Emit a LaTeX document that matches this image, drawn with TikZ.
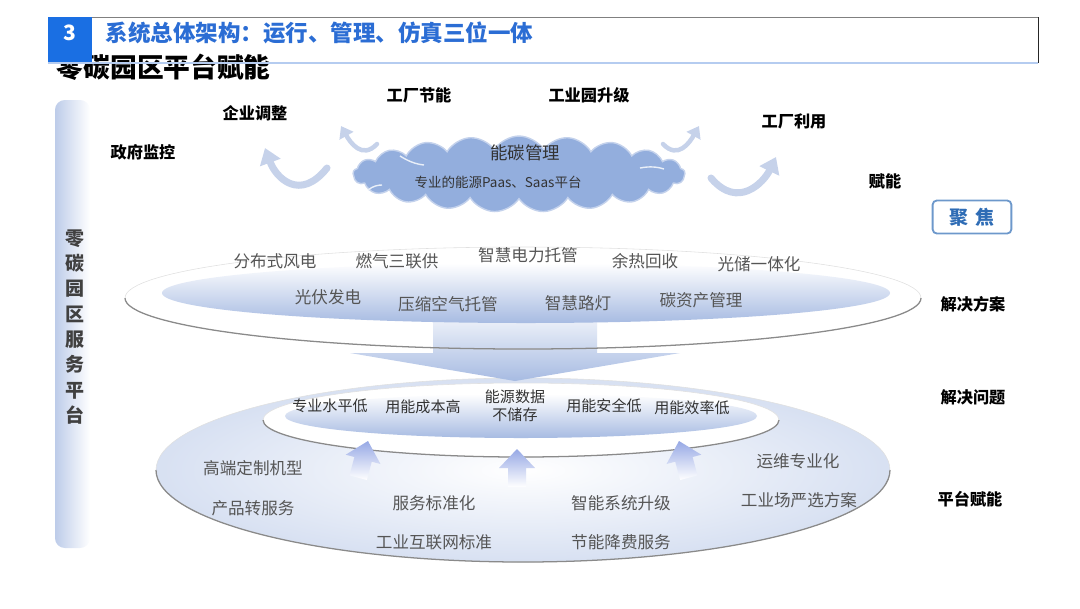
\documentclass[tikz,border=0pt]{standalone}
\usepackage{fontspec}
\setmainfont{Noto Sans CJK SC}
\usetikzlibrary{shapes.symbols,arrows.meta}

\definecolor{hdblue}{HTML}{1A6FE3}
\definecolor{ttlblue}{HTML}{2B6DD4}
\definecolor{cloudblue}{HTML}{93AEDD}
\definecolor{diskblue}{HTML}{A7BBE2}
\definecolor{swish}{HTML}{C6D2EA}
\definecolor{rimgray}{HTML}{8A8A8A}
\definecolor{itemgray}{HTML}{555555}
\definecolor{focusblue}{HTML}{2E6CB5}

\begin{document}
\begin{tikzpicture}[x=0.025cm,y=-0.025cm,
  lbl/.style={font=\fontsize{11.5}{13}\selectfont\bfseries},
  itm/.style={text=itemgray,font=\fontsize{11.8}{14}\selectfont},
  prb/.style={text=black!80,font=\fontsize{10.7}{12.5}\selectfont,align=center},
  upar/.style={top color=diskblue!90!blue,bottom color=white},
  swoosh/.style={draw=swish,line cap=round}]
  \useasboundingbox (0,0) rectangle (1080,608);

  % side bar
  \shade[left color=diskblue!75,right color=white,rounded corners=7pt] (55,100) rectangle (90,548);
  \node[font=\fontsize{13.5}{18}\selectfont\bfseries,text=black!75,align=center] (bar) at (75,327) {零\\碳\\园\\区\\服\\务\\平\\台};

  % header
  \node[anchor=west,font=\fontsize{19}{21}\selectfont\bfseries] (sub) at (52,67) {零碳园区平台赋能};
  \draw[black!50] (48,17) -- (1038,17);
  \draw[black!85] (1038,17) -- (1038,63);
  \draw[ttlblue!35,line width=1.2pt] (48,63) -- (1038,63);
  \fill[hdblue] (48,17) rectangle (92,62);
  \node[text=white,font=\fontsize{15}{17}\selectfont\bfseries] (num) at (70,33) {3};
  \node[anchor=west,text=ttlblue,font=\fontsize{16}{18}\selectfont\bfseries] (ttl) at (101,33) {系统总体架构：运行、管理、仿真三位一体};

  % cloud and swooshes
  \node[cloud,cloud puffs=21,cloud puff arc=115,aspect=4.6,fill=cloudblue,draw=cloudblue!55!white,line width=1pt,
    minimum width=236pt,minimum height=54pt] (cloud) at (519,174) {};
  \draw[white!80!cloudblue,line width=1pt] (400,156) .. controls (408,161) and (415,164) .. (424,165);
  \draw[white!80!cloudblue,line width=1pt] (368,190) .. controls (373,186) and (378,185) .. (382,185);
  \draw[white!80!cloudblue,line width=1pt] (640,168) .. controls (650,166) and (658,167) .. (664,169);
  \node[text=black!80,font=\fontsize{12.4}{14}\selectfont] (nt) at (525,153) {能碳管理};
  \node[text=black!80,font=\fontsize{9.6}{11}\selectfont] (ntsub) at (498,182) {专业的能源Paas、Saas平台};
  \draw[swoosh,line width=5pt,-{Triangle[length=11pt,width=15pt]}] (327,168) .. controls (300,202) and (276,178) .. (265,148);
  \draw[swoosh,line width=3.2pt,-{Triangle[length=8pt,width=11pt]}] (377,144) .. controls (362,160) and (350,142) .. (341,126);
  \draw[swoosh,line width=3.2pt,-{Triangle[length=8pt,width=11pt]}] (663,144) .. controls (678,160) and (690,142) .. (699,126);
  \draw[swoosh,line width=5pt,-{Triangle[length=11pt,width=15pt]}] (711,178) .. controls (738,210) and (764,182) .. (776,157);

  \node[lbl] (gov) at (143,152) {政府监控};
  \node[lbl] (ent) at (255,113) {企业调整};
  \node[lbl] (fac) at (419,95) {工厂节能};
  \node[lbl] (park) at (589,95) {工业园升级};
  \node[lbl] (use) at (794,121) {工厂利用};
  \node[lbl] (emp) at (885,181) {赋能};
  \node[draw=focusblue!70,line width=1.3pt,rounded corners=3pt,minimum width=56pt,minimum height=23.5pt,
    text=focusblue,font=\fontsize{13.5}{15}\selectfont\bfseries] (focus) at (972,217) {聚\,\,焦};

  % platform disc
  \shade[inner color=white,outer color=diskblue!45] (523,470) circle[x radius=367,y radius=92];
  \draw[black!12] (523,470) circle[x radius=367,y radius=92];
  \draw[rimgray,line width=0.9pt] (523,470) ++(-367,0) arc[start angle=180,end angle=0,x radius=367,y radius=92];

  % problem ring
  \fill[white] (521,420) circle[x radius=258,y radius=37];
  \draw[black!12] (521,420) circle[x radius=258,y radius=37];
  \draw[rimgray,line width=0.9pt] (521,420) ++(-258,0) arc[start angle=180,end angle=0,x radius=258,y radius=37];
  \shade[top color=white,bottom color=diskblue] (521,416) circle[x radius=236,y radius=22];

  % solution ring and down arrow
  \fill[white] (523,298) circle[x radius=398,y radius=51];
  \shade[top color=diskblue!20,bottom color=diskblue] (433,318) -- (597,318) -- (597,353) -- (680,353)
    -- (515,381) -- (350,353) -- (433,353) -- cycle;
  \draw[black!12] (523,298) circle[x radius=398,y radius=51];
  \draw[rimgray,line width=0.9pt] (523,298) ++(-398,0) arc[start angle=180,end angle=0,x radius=398,y radius=51];
  \shade[top color=white,bottom color=diskblue] (526,293) circle[x radius=364,y radius=30];

  % up arrows
  \begin{scope}[shift={(368,441)},rotate=-15]
    \shade[upar] (0,0) -- (18,19) -- (9,19) -- (9,38) -- (-9,38) -- (-9,19) -- (-18,19) -- cycle;
  \end{scope}
  \begin{scope}[shift={(517,449)}]
    \shade[upar] (0,0) -- (18,19) -- (9,19) -- (9,38) -- (-9,38) -- (-9,19) -- (-18,19) -- cycle;
  \end{scope}
  \begin{scope}[shift={(679,441)},rotate=15]
    \shade[upar] (0,0) -- (18,19) -- (9,19) -- (9,38) -- (-9,38) -- (-9,19) -- (-18,19) -- cycle;
  \end{scope}

  % solutions
  \node[itm] (s1) at (275,261) {分布式风电};
  \node[itm] (s2) at (397,261) {燃气三联供};
  \node[itm] (s3) at (528,255) {智慧电力托管};
  \node[itm] (s4) at (645,261) {余热回收};
  \node[itm] (s5) at (759,264) {光储一体化};
  \node[itm] (s6) at (328,297) {光伏发电};
  \node[itm] (s7) at (448,304) {压缩空气托管};
  \node[itm] (s8) at (578,303) {智慧路灯};
  \node[itm] (s9) at (701,300) {碳资产管理};
  \node[lbl] (sol) at (973,304) {解决方案};

  % problems
  \node[prb] (p1) at (330,406) {专业水平低};
  \node[prb] (p2) at (423,407) {用能成本高};
  \node[prb] (p3) at (515,406) {能源数据\\不储存};
  \node[prb] (p4) at (604,406) {用能安全低};
  \node[prb] (p5) at (692,408) {用能效率低};
  \node[lbl] (prob) at (973,397) {解决问题};

  % platform items
  \node[itm] (e1) at (253,468) {高端定制机型};
  \node[itm] (e2) at (253,508) {产品转服务};
  \node[itm] (e3) at (434,503) {服务标准化};
  \node[itm] (e4) at (434,542) {工业互联网标准};
  \node[itm] (e5) at (621,503) {智能系统升级};
  \node[itm] (e6) at (621,542) {节能降费服务};
  \node[itm] (e7) at (798,461) {运维专业化};
  \node[itm] (e8) at (799,500) {工业场严选方案};
  \node[lbl] (plat) at (970,499) {平台赋能};
\end{tikzpicture}
\end{document}
